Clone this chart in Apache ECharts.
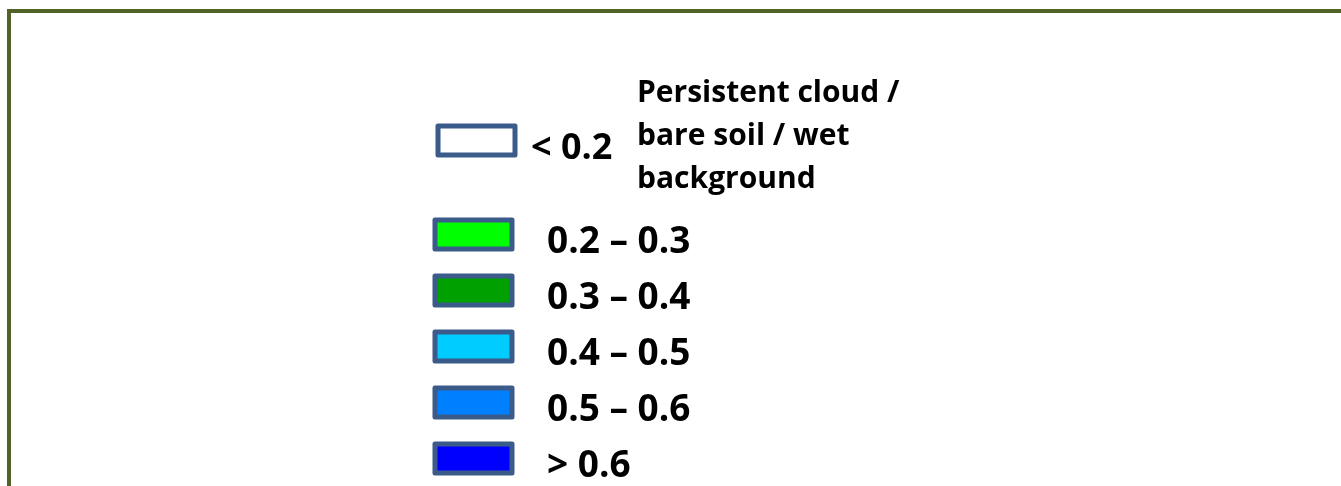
<!DOCTYPE html>
<html>
<head>
<meta charset="utf-8">
<script src="https://cdn.jsdelivr.net/npm/echarts@6/dist/echarts.min.js"></script>
<style>
  html, body { margin: 0; padding: 0; background: #fff; }
  #wrap { position: relative; width: 1341px; height: 486px; overflow: hidden; }
  /* frame of the original slide */
  #frame { position: absolute; left: 7px; top: 9px; width: 1400px; height: 600px;
           border-top: 4px solid #52632a; border-left: 4px solid #52632a; }
  #legend-chart { position: absolute; left: 0; top: 0; width: 1341px; height: 486px; }
</style>
</head>
<body>
<div id="wrap">
  <div id="frame"></div>
  <div id="legend-chart"></div>
</div>
<script>
// 图例分级
let lowClass = '< 0.2'
let lowClassNote = 'Persistent cloud /\nbare soil / wet\nbackground'
let rangeClasses = ['0.2 – 0.3', '0.3 – 0.4', '0.4 – 0.5', '0.5 – 0.6', '> 0.6']
let rangeColors = ['#00ff00', '#00a000', '#00ccff', '#0080ff', '#0000ff']
let lowColor = '#ffffff'

let myChart = echarts.init(document.getElementById('legend-chart'))

// 每个分级一个空系列，只用来生成图例
let series = [{ name: lowClass, type: 'bar', data: [], itemStyle: { color: lowColor } }]
rangeClasses.forEach((name, i) => {
  series.push({ name: name, type: 'bar', data: [], itemStyle: { color: rangeColors[i] } })
})

let boxStyle = { borderColor: '#3b5b8b', borderWidth: 5, borderJoin: 'round' }

let option = {
  animation: false,
  grid: { show: false },
  xAxis: { show: false, type: 'category', data: [] },
  yAxis: { show: false, type: 'value' },
  title: {
    text: lowClassNote,
    left: 637,
    top: 72,
    padding: 0,
    textStyle: { fontFamily: 'Open Sans', fontWeight: 'bold', fontSize: 30, lineHeight: 43, color: '#000' }
  },
  legend: [
    {
      data: [lowClass],
      left: 435.5,
      top: 114,
      padding: 0,
      orient: 'vertical',
      icon: 'rect',
      itemWidth: 77,
      itemHeight: 29,
      selectedMode: false,
      itemStyle: boxStyle,
      formatter: name => '{t|' + name + '}',
      textStyle: {
        rich: {
          t: { fontFamily: 'Open Sans', fontWeight: 'bold', fontSize: 36, lineHeight: 28, color: '#000', padding: [17, 0, 0, 11] }
        }
      }
    },
    {
      data: rangeClasses,
      left: 432.5,
      top: 208,
      padding: 0,
      orient: 'vertical',
      icon: 'rect',
      itemWidth: 77,
      itemHeight: 29,
      itemGap: 3,
      selectedMode: false,
      itemStyle: boxStyle,
      formatter: name => '{t|' + name + '}',
      textStyle: {
        rich: {
          t: { fontFamily: 'Open Sans', fontWeight: 'bold', fontSize: 37, lineHeight: 28, color: '#000', padding: [16, 0, 0, 30] }
        }
      }
    }
  ],
  series: series
}
myChart.setOption(option)
</script>
</body>
</html>
